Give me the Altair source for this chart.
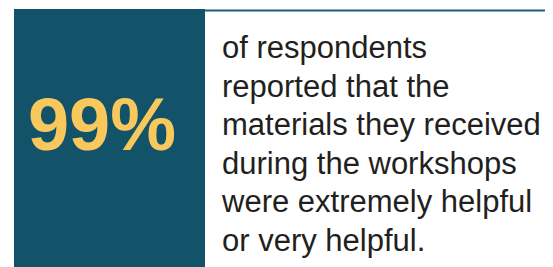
import altair as alt
import pandas as pd

stat_value = ["99%"]
caption_lines = [
    "of respondents",
    "reported that the",
    "materials they received",
    "during the workshops",
    "were extremely helpful",
    "or very helpful.",
]

W, H = 537, 259

df = pd.DataFrame({"stat": stat_value, "caption": ["\n".join(caption_lines)]})
base = alt.Chart(df)

box = base.mark_rect(color="#13536a").encode(
    x=alt.value(6), x2=alt.value(197), y=alt.value(1), y2=alt.value(H + 5)
)
rule = base.mark_rule(color="#1f6079", strokeWidth=2).encode(
    x=alt.value(197), x2=alt.value(W + 5), y=alt.value(2.5)
)
stat = base.mark_text(
    font="'Liberation Sans Narrow', 'Arial Narrow', 'Liberation Sans', Arial, sans-serif",
    fontWeight="bold", fontSize=74,
    color="#f9c85c", align="center", baseline="alphabetic"
).encode(x=alt.value(94), y=alt.value(142), text="stat:N")
caption = base.mark_text(
    font="Liberation Sans", fontSize=31, lineHeight=38.5, lineBreak="\n",
    color="#231f20", align="left", baseline="alphabetic"
).encode(x=alt.value(214), y=alt.value(50), text="caption:N")

chart = alt.layer(box, rule, stat, caption).properties(
    width=W, height=H, padding=0, autosize=alt.AutoSizeParams(type="none")
).configure_view(stroke=None)

chart.save("out.html", embed_options={"renderer": "svg", "actions": False})
